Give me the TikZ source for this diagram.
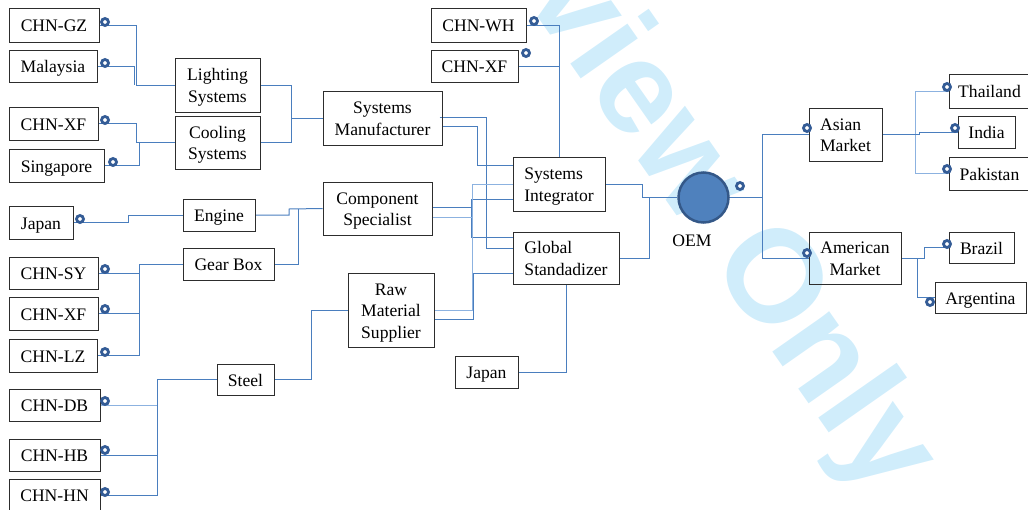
\documentclass[tikz,border=0pt]{standalone}
\usepackage{fontspec}
\setmainfont{Liberation Serif}
\newfontfamily\wmfont{Liberation Sans}
\definecolor{lnblue}{RGB}{74,126,190}
\definecolor{lnlight}{RGB}{140,178,224}
\definecolor{ringblue}{RGB}{52,92,150}
\definecolor{oemfill}{RGB}{79,129,189}
\definecolor{oemdraw}{RGB}{52,88,136}
\definecolor{wmblue}{RGB}{208,237,251}
\definecolor{boxline}{RGB}{45,45,45}
\pgfdeclarelayer{wmlayer}
\pgfdeclarelayer{bglayer}
\pgfsetlayers{wmlayer,bglayer,main}
\newcommand\bx[6]{\node[box,minimum width=#4pt,minimum height=#5pt] (#1) at (#2,#3) {\raisebox{-6.6pt}[0pt][0pt]{\begin{tabular}{@{}c@{}}#6\end{tabular}}};}
\newcommand\bxl[6]{\node[box,minimum width=#4pt,minimum height=#5pt] (#1) at (#2,#3) {\raisebox{-6.6pt}[0pt][0pt]{\begin{tabular}{@{}l@{}}#6\end{tabular}}};}
\begin{document}
\begin{tikzpicture}[x=1pt,y=-1pt,
  box/.style={draw=boxline,line width=1pt,inner sep=0pt,font=\fontsize{17.6}{21.5}\selectfont},
  conn/.style={draw=lnblue,line width=1pt},
  connl/.style={draw=lnlight,line width=1pt},
  ring/.style={circle,draw=ringblue,line width=2.8pt,minimum size=7pt,inner sep=0pt,fill=white},
  lbl/.style={font=\fontsize{17.6}{21.5}\selectfont,inner sep=0pt}]
\useasboundingbox (0,0) rectangle (1028,509);
\begin{pgfonlayer}{wmlayer}
\node[rotate=-55,text=wmblue,font=\wmfont\bfseries\fontsize{132}{132}\selectfont,inner sep=0pt] (wm) at (680,160) {Review Only};
\end{pgfonlayer}
% boxes
\bx{gz}{54}{25}{90}{34}{CHN-GZ}
\bx{mal}{53}{66}{88}{32}{Malaysia}
\bx{light}{217.5}{85}{85}{54}{Lighting\\Systems}
\bx{xfa}{53.5}{123.5}{89}{33}{CHN-XF}
\bx{sing}{56.5}{165.5}{95}{33}{Singapore}
\bx{cool}{217.5}{142.5}{85}{53}{Cooling\\Systems}
\bx{sm}{382.5}{118}{119}{54}{Systems\\Manufacturer}
\bx{wh}{478.5}{25}{95}{34}{CHN-WH}
\bx{xft}{474.5}{66}{87}{32}{CHN-XF}
\bx{jpa}{41}{222.5}{64}{33}{Japan}
\bx{eng}{219}{215}{72}{32}{Engine}
\bx{cs}{377.5}{208.5}{109}{53}{Component\\Specialist}
\bx{gb}{228.5}{264}{91}{32}{Gear Box}
\bx{sy}{53.5}{273}{89}{32}{CHN-SY}
\bx{xfb}{53.5}{313.5}{89}{33}{CHN-XF}
\bx{lz}{53}{355.5}{88}{33}{CHN-LZ}
\bx{steel}{245.5}{379.5}{57}{31}{Steel}
\bx{rm}{391}{310}{86}{74}{Raw\\Material\\Supplier}
\bx{db}{54.5}{405}{91}{32}{CHN-DB}
\bx{hb}{54.5}{455}{91}{32}{CHN-HB}
\bx{hn}{54.5}{495}{91}{32}{CHN-HN}
\bxl{si}{559}{184}{92}{54}{Systems\\Integrator}
\bxl{glob}{566}{258}{106}{52}{Global\\Standadizer}
\bx{jpb}{486.5}{372}{63}{32}{Japan}
\bxl{asia}{845.5}{134.5}{73}{53}{Asian\\Market}
\bx{amer}{855}{258}{92}{52}{American\\Market}
\bx{thai}{989.5}{91}{81}{34}{Thailand}
\bx{ind}{986.5}{132}{57}{32}{India}
\bx{pak}{989.5}{173.5}{81}{33}{Pakistan}
\bx{bra}{981.5}{247.5}{65}{31}{Brazil}
\bx{arg}{980.5}{297.5}{91}{31}{Argentina}
% OEM
\node[circle,fill=oemfill,draw=oemdraw,line width=2.5pt,minimum size=50pt,inner sep=0pt] (oem) at (703.5,197.5) {};
\node[lbl] (oemlbl) at (692,241) {OEM};
% connectors
\begin{pgfonlayer}{bglayer}
\draw[conn] (gz.east) -| ([xshift=-38pt]light.west) -- (light.west);
\draw[conn] (mal.east) -| ([xshift=-40pt]light.west);
\draw[conn] (xfa.east) -| ([xshift=-38pt]cool.west) -- (cool.west);
\draw[conn] (sing.east) -| ([xshift=-35pt]cool.west);
\draw[conn] (light.east) -| ([xshift=-31pt]sm.west) -- (sm.west);
\draw[conn] (cool.east) -| ([xshift=-31pt]sm.west);
\draw[conn] (wh.east) -| (si.north);
\draw[conn] (xft.east) -- (xft.east -| si.north);
\draw[conn] ([shift={(-3pt,1pt)}]sm.east) -| ([shift={(-26pt,10pt)}]glob.west) -- ([yshift=10pt]glob.west);
\draw[conn] ([yshift=-8pt]sm.east) -| ([shift={(-35pt,19pt)}]si.west) -- ([yshift=19pt]si.west);
\draw[conn] (jpa.east) -| (128,215) -- (eng.west);
\draw[conn] (eng.east) -| (289,209) -- (cs.west);
\draw[conn] (gb.east) -| ([xshift=-24pt]cs.west);
\draw[conn] (sy.east) -| ([xshift=-43pt]gb.west);
\draw[conn] (xfb.east) -| ([xshift=-43pt]gb.west);
\draw[conn] (lz.east) -| ([xshift=-43pt]gb.west) -- (gb.west);
\draw[connl] (db.east) -| ([xshift=-59pt]steel.west);
\draw[conn] (hb.east) -| ([xshift=-59pt]steel.west);
\draw[conn] (hn.east) -| ([xshift=-59pt]steel.west) -- (steel.west);
\draw[conn] (steel.east) -| ([xshift=-36pt]rm.west) -- (rm.west);
\draw[conn] ([yshift=1.5pt]cs.east) -| ([shift={(-41pt,-15pt)}]si.west) -- ([yshift=-15pt]si.west);
\draw[conn] ([yshift=1.5pt]cs.east) -| ([shift={(-41pt,21pt)}]glob.west) -- ([yshift=21pt]glob.west);
\draw[connl] ([yshift=-8.5pt]cs.east) -- ([shift={(-40pt,-33pt)}]si.west);
\draw[connl] (rm.east) -| ([xshift=-40pt]si.west) -- (si.west);
\draw[conn] ([yshift=-9pt]rm.east) -| ([shift={(-39pt,-15pt)}]glob.west) -- ([yshift=-15pt]glob.west);
\draw[conn] (jpb.east) -| (glob.south);
\draw[conn] (si.east) -| ([xshift=-35pt]oem.west) -- (oem.west);
\draw[conn] (glob.east) -| ([xshift=-28pt]oem.west);
\draw[conn] (oem.center) -| ([xshift=-46pt]asia.west) -- (asia.west);
\draw[conn] (oem.center) -| ([xshift=-46pt]amer.west) -- (amer.west);
\draw[connl] (asia.east) -| ([xshift=-33pt]thai.west) -- (thai.west);
\draw[connl] (asia.east) -| ([xshift=-33pt]pak.west) -- (pak.west);
\draw[conn] (asia.east) -| ([xshift=-38pt]ind.west) -- (ind.west);
\draw[conn] (amer.east) -| ([xshift=-24pt]bra.west) -- (bra.west);
\draw[conn] (amer.east) -| ([xshift=-17pt]arg.west) -- (arg.west);
\end{pgfonlayer}
% rings
\node[ring] (rgz) at (105,22) {};
\node[ring] (rmal) at (105,63) {};
\node[ring] (rxfa) at (105,120) {};
\node[ring] (rsing) at (113,162) {};
\node[ring] (rjpa) at (80,219) {};
\node[ring] (rsy) at (105,269) {};
\node[ring] (rxfb) at (105,309) {};
\node[ring] (rlz) at (105,352) {};
\node[ring] (rdb) at (105,401) {};
\node[ring] (rhb) at (105,450) {};
\node[ring] (rhn) at (105,492) {};
\node[ring] (rwh) at (534,21) {};
\node[ring] (rxft) at (526,53) {};
\node[ring] (roem) at (740,186) {};
\node[ring] (rasia) at (807,128) {};
\node[ring] (ramer) at (807,253) {};
\node[ring] (rthai) at (947,87) {};
\node[ring] (rind) at (955,128) {};
\node[ring] (rpak) at (947,169) {};
\node[ring] (rbra) at (947,244) {};
\node[ring] (rarg) at (930,302) {};
\end{tikzpicture}
\end{document}
